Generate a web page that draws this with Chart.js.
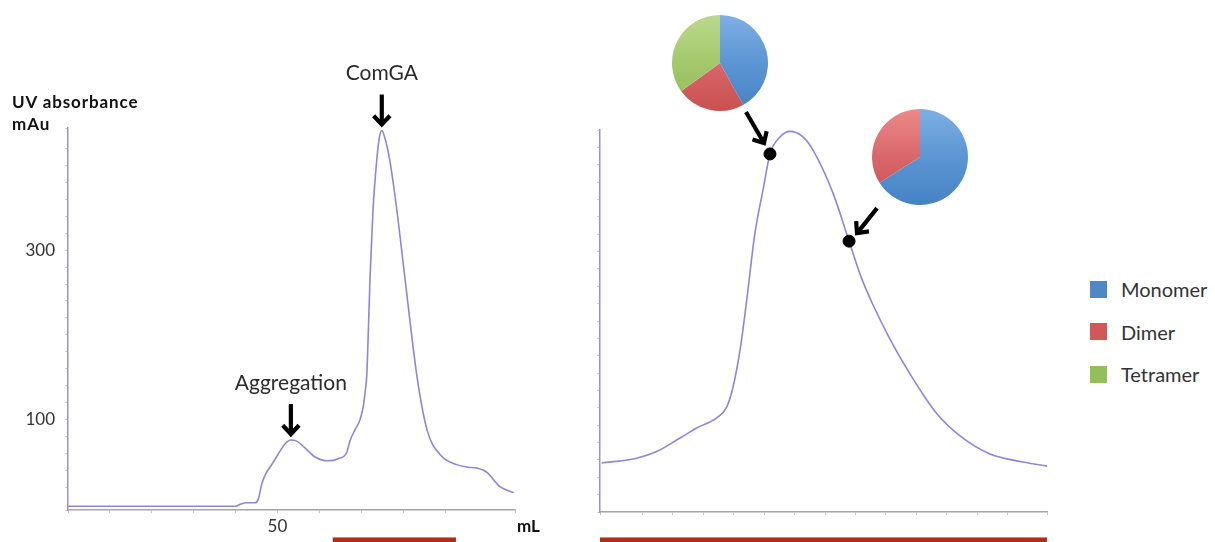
<!DOCTYPE html>
<html>
<head>
<meta charset="utf-8">
<script src="https://cdn.jsdelivr.net/npm/chart.js@4"></script>
<style>
  html,body{margin:0;padding:0;background:#fff;}
  body{width:1215px;height:542px;position:relative;overflow:hidden;font-family:Lato,"Noto Sans",sans-serif;color:#222;}
  canvas{position:absolute;}
  .lbl{position:absolute;white-space:nowrap;}
  #ytitle{left:12px;top:91px;font-weight:700;font-size:17px;letter-spacing:0.9px;line-height:22px;color:#111;}
  #xunit{left:517px;top:515px;font-weight:700;font-size:17px;color:#111;}
  #legend{position:absolute;left:1090px;top:268px;}
  .li{display:flex;align-items:center;height:42.5px;font-size:20px;color:#333;}
  .sw{width:17px;height:17px;margin-right:14px;}
</style>
</head>
<body>
<canvas id="left" width="560" height="542" style="left:0;top:0;width:560px;height:542px"></canvas>
<canvas id="right" width="520" height="542" style="left:560px;top:0;width:520px;height:542px"></canvas>
<canvas id="pie1" width="98" height="98" style="left:671px;top:14px;width:98px;height:98px"></canvas>
<canvas id="pie2" width="98" height="98" style="left:871px;top:108px;width:98px;height:98px"></canvas>
<div class="lbl" id="ytitle">UV absorbance<br>mAu</div>
<div class="lbl" id="xunit">mL</div>
<div id="legend"></div>
<script>
// ---------- DATA ----------
// Left chromatogram: elution volume (mL) and UV absorbance (mAu)
const leftVolume = [0,40,41.3,42.5,44.7,45.4,46.3,47.2,48.9,50.5,51.9,53.2,54.5,56.5,59,62,64.5,66.5,67.3,68.5,69.7,70.5,71.0,71.3,71.6,72.1,72.8,73.7,74.3,74.9,75.6,76.8,78.5,80.4,83.3,85.7,88.8,92.8,95.5,97.6,100,103.1,106.4];
const leftUV     = [-2,-2,0.5,2,2,6,25,36,49,62,72,76,75,67,56,51.5,54,61,75,88,100,116,136,151,190,268,347,406,432,441,433,406,347,268,151,88,59,47,44,43,38,21,14];
const leftTickLabels = [100, 300, 50];
const peakNotes = ['Aggregation', 'ComGA'];
const peakVolume = [53.2, 74.9];
const peakUV = [76, 441];
// Fraction range collected (mL), shown enlarged on the right
const fractionRange = [63.2, 92.6];

// Right chromatogram (zoom on the collected fractions)
const rightVolume = [63.31,65.61,66.93,68.46,69.56,70.88,71.53,71.95,72.41,72.85,73.39,73.92,74.38,75.04,75.70,76.55,77.21,78.52,79.58,80.37,81.16,82.27,83.39,84.38,85.37,86.88,88.85,91.02,92.6];
const rightUV     = [14.1,15.5,17.4,21.3,24.2,27.1,30.2,36.0,46.6,61.0,80.3,92.7,103.1,108.0,109.6,108.0,104.2,91.9,78.0,67.7,59.6,49.8,41.2,34.3,28.2,21.9,16.7,14.4,13.2];
// Sampled fractions (dots)
const sampleVolume = [74.38, 79.58];
const sampleUV = [103.1, 78.0];

// Composition of sampled fractions (%)
const species = ['Monomer', 'Dimer', 'Tetramer'];
const sample1 = [42, 23, 35];
const sample2 = [66, 34, 0];

// ---------- STYLE ----------
const lineColor = '#8f86d6';
const purpleAxis = '#9a90cc';
const greyAxis = '#a8a4a4';
const speciesColors = ['#5b95d3', '#d9676a', '#a4c86c'];
const legendColors = ['#4f87c7', '#d05858', '#92bf5c'];
const barColor = '#a9301f';
const FONT = 'Lato, "Noto Sans", sans-serif';

function drawArrow(ctx, x1, y1, x2, y2) {
  const ang = Math.atan2(y2 - y1, x2 - x1);
  const hl = 12, hw = 0.75;
  ctx.save();
  ctx.strokeStyle = '#000';
  ctx.lineWidth = 4.2;
  ctx.lineCap = 'butt';
  ctx.lineJoin = 'miter';
  ctx.beginPath();
  ctx.moveTo(x1, y1);
  ctx.lineTo(x2 - Math.cos(ang) * 2, y2 - Math.sin(ang) * 2);
  ctx.stroke();
  ctx.beginPath();
  ctx.moveTo(x2 - hl * Math.cos(ang - hw), y2 - hl * Math.sin(ang - hw));
  ctx.lineTo(x2, y2);
  ctx.lineTo(x2 - hl * Math.cos(ang + hw), y2 - hl * Math.sin(ang + hw));
  ctx.stroke();
  ctx.restore();
}

function bottomBar(ctx, x1, x2, canvasH) {
  ctx.save();
  ctx.fillStyle = barColor;
  ctx.fillRect(x1, canvasH - 4, x2 - x1, 4);
  ctx.fillStyle = '#e0826c';
  ctx.fillRect(x1, canvasH - 5, x2 - x1, 1);
  ctx.restore();
}

const leftPlugin = {
  id: 'leftNotes',
  afterDatasetsDraw(chart) {
    const ctx = chart.ctx, xs = chart.scales.x, ys = chart.scales.y;
    peakNotes.forEach((txt, i) => {
      const px = xs.getPixelForValue(peakVolume[i]);
      const py = ys.getPixelForValue(peakUV[i]);
      drawArrow(ctx, px, py - 36, px, py - 6);
      ctx.save();
      ctx.font = '21px ' + FONT;
      ctx.fillStyle = '#2a2a2a';
      ctx.textAlign = 'center';
      ctx.textBaseline = 'middle';
      ctx.fillText(txt, px, py - 57);
      ctx.restore();
    });
    bottomBar(ctx, xs.getPixelForValue(fractionRange[0]), xs.getPixelForValue(fractionRange[1]), chart.height);
  }
};

const rightPlugin = {
  id: 'rightNotes',
  afterDatasetsDraw(chart) {
    const ctx = chart.ctx, xs = chart.scales.x, ys = chart.scales.y;
    const p1x = xs.getPixelForValue(sampleVolume[0]), p1y = ys.getPixelForValue(sampleUV[0]);
    const p2x = xs.getPixelForValue(sampleVolume[1]), p2y = ys.getPixelForValue(sampleUV[1]);
    drawArrow(ctx, p1x - 24, p1y - 42, p1x - 6, p1y - 11);
    drawArrow(ctx, p2x + 28, p2y - 33, p2x + 8, p2y - 8);
    bottomBar(ctx, chart.chartArea.left, chart.chartArea.right, chart.height);
  }
};

function pts(xa, ya) { return xa.map((x, i) => ({x, y: ya[i]})); }

// ---------- LEFT CHART ----------
new Chart(document.getElementById('left'), {
  type: 'line',
  data: {
    datasets: [{
      data: pts(leftVolume, leftUV),
      borderColor: lineColor,
      borderWidth: 1.6,
      pointRadius: 0,
      cubicInterpolationMode: 'monotone',
      fill: false
    }]
  },
  options: {
    responsive: false,
    animation: false,
    events: [],
    layout: { padding: { top: 128, right: 45, left: 0, bottom: 0 } },
    plugins: { legend: { display: false }, tooltip: { enabled: false } },
    scales: {
      x: {
        type: 'linear', min: 0, max: 106.7,
        afterFit: s => { s.height = 32; },
        border: { display: true, color: greyAxis, width: 1.5 },
        grid: { display: true, drawOnChartArea: false, tickLength: 3, color: '#c8c4c4' },
        ticks: {
          stepSize: 10, padding: 3, autoSkip: false, maxRotation: 0,
          font: { family: FONT, size: 17 }, color: '#333',
          callback: v => (leftTickLabels.includes(v) && v < 100 ? String(v) : '')
        }
      },
      y: {
        type: 'linear', min: -6.5, max: 444,
        afterFit: s => { s.width = 68; },
        border: { display: true, color: purpleAxis, width: 1.5 },
        grid: { display: true, drawOnChartArea: false, tickLength: 3, color: '#cdc8e4' },
        ticks: {
          stepSize: 20, padding: 10, autoSkip: false,
          font: { family: FONT, size: 17 }, color: '#333',
          callback: v => (v >= 100 && leftTickLabels.includes(v) ? String(v) : '')
        }
      }
    }
  },
  plugins: [leftPlugin]
});

// ---------- RIGHT CHART ----------
new Chart(document.getElementById('right'), {
  type: 'line',
  data: {
    datasets: [{
      data: pts(rightVolume, rightUV),
      borderColor: lineColor,
      borderWidth: 1.6,
      pointRadius: 0,
      cubicInterpolationMode: 'monotone',
      fill: false,
      order: 2
    }, {
      type: 'scatter',
      data: pts(sampleVolume, sampleUV),
      backgroundColor: '#000',
      borderColor: '#000',
      pointRadius: 6,
      order: 1
    }]
  },
  options: {
    responsive: false,
    animation: false,
    events: [],
    layout: { padding: { top: 130, right: 33, left: 0, bottom: 0 } },
    plugins: { legend: { display: false }, tooltip: { enabled: false } },
    scales: {
      x: {
        type: 'linear', min: fractionRange[0], max: fractionRange[1],
        afterFit: s => { s.height = 30; },
        border: { display: true, color: greyAxis, width: 1.5 },
        grid: { display: true, drawOnChartArea: false, tickLength: 3, color: '#c8c4c4' },
        ticks: { stepSize: 2, autoSkip: false, callback: () => '' }
      },
      y: {
        type: 'linear', min: 0, max: 110,
        afterFit: s => { s.width = 40; },
        border: { display: true, color: purpleAxis, width: 1.5 },
        grid: { display: true, drawOnChartArea: false, tickLength: 3, color: '#cdc8e4' },
        ticks: { stepSize: 5, autoSkip: false, callback: () => '' }
      }
    }
  },
  plugins: [rightPlugin]
});

// ---------- PIES ----------
function pieGradient(ctx, i) {
  const chart = ctx.chart, c = chart.ctx;
  const g = c.createLinearGradient(0, 0, 0, chart.height);
  const base = speciesColors[i];
  const light = ['#7fb0e4', '#ec8a8a', '#bcd98e'][i];
  const dark = ['#4682c4', '#c8504f', '#93ba58'][i];
  g.addColorStop(0, light);
  g.addColorStop(0.5, base);
  g.addColorStop(1, dark);
  return g;
}
function makePie(id, values) {
  new Chart(document.getElementById(id), {
    type: 'pie',
    data: {
      labels: species,
      datasets: [{
        data: values,
        backgroundColor: ctx => pieGradient(ctx, ctx.dataIndex),
        borderWidth: 0
      }]
    },
    options: {
      responsive: false,
      animation: false,
      events: [],
      layout: { padding: 1 },
      plugins: { legend: { display: false }, tooltip: { enabled: false } }
    }
  });
}
makePie('pie1', sample1);
makePie('pie2', sample2);

// ---------- LEGEND ----------
const lg = document.getElementById('legend');
species.forEach((s, i) => {
  const row = document.createElement('div');
  row.className = 'li';
  row.innerHTML = '<div class="sw" style="background:' + legendColors[i] + '"></div><span>' + s + '</span>';
  lg.appendChild(row);
});
</script>
</body>
</html>
